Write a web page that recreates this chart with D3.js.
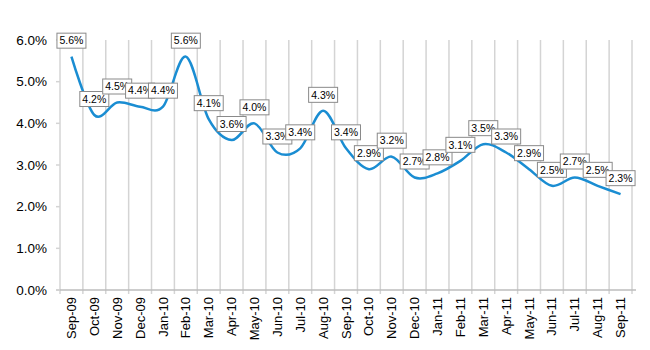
<!DOCTYPE html>
<html>
<head>
<meta charset="utf-8">
<script src="https://cdn.jsdelivr.net/npm/d3@7"></script>
<style>
  body { margin: 0; background: #fff; }
  text { font-family: "Liberation Sans", Arial, sans-serif; }
</style>
</head>
<body>
<div id="chart"></div>
<script>
const months = ["Sep-09","Oct-09","Nov-09","Dec-09","Jan-10","Feb-10","Mar-10","Apr-10","May-10","Jun-10","Jul-10","Aug-10",
  "Sep-10","Oct-10","Nov-10","Dec-10","Jan-11","Feb-11","Mar-11","Apr-11","May-11","Jun-11","Jul-11","Aug-11","Sep-11"];
const rates = [5.6, 4.2, 4.5, 4.4, 4.4, 5.6, 4.1, 3.6, 4.0, 3.3, 3.4, 4.3,
  3.4, 2.9, 3.2, 2.7, 2.8, 3.1, 3.5, 3.3, 2.9, 2.5, 2.7, 2.5, 2.3];
const yTicks = [0, 1, 2, 3, 4, 5, 6];

const width = 650, height = 350;
const margin = { left: 60, right: 18, top: 40, bottom: 60 };

const svg = d3.select("#chart").append("svg")
  .attr("width", width)
  .attr("height", height);

const x = d3.scaleBand()
  .domain(months)
  .range([margin.left, width - margin.right])
  .paddingInner(0).paddingOuter(0);

const y = d3.scaleLinear()
  .domain([0, 6])
  .range([height - margin.bottom, margin.top]);

const gridColor = "#d4d4d4";

// vertical gridlines at category boundaries
const bounds = months.map(m => x(m)).concat([x.range()[1]]);
svg.append("g").selectAll("line")
  .data(bounds)
  .enter().append("line")
  .attr("x1", d => d).attr("x2", d => d)
  .attr("y1", y(6)).attr("y2", y(0) + 4)
  .attr("stroke", gridColor)
  .attr("stroke-width", 1.5);

// bottom axis line
svg.append("line")
  .attr("x1", x.range()[0] - 4).attr("x2", x.range()[1] + 4)
  .attr("y1", y(0)).attr("y2", y(0))
  .attr("stroke", "#bdbdbd")
  .attr("stroke-width", 1.5);

// y axis ticks and labels
const yg = svg.append("g");
yg.selectAll("line")
  .data(yTicks)
  .enter().append("line")
  .attr("x1", margin.left - 4).attr("x2", margin.left)
  .attr("y1", d => y(d)).attr("y2", d => y(d))
  .attr("stroke", gridColor)
  .attr("stroke-width", 1.5);
yg.selectAll("text")
  .data(yTicks)
  .enter().append("text")
  .attr("x", 47)
  .attr("y", d => y(d))
  .attr("dy", "0.35em")
  .attr("text-anchor", "end")
  .attr("font-size", "13.5px")
  .attr("fill", "#000")
  .text(d => d.toFixed(1) + "%");

// x labels, rotated
svg.append("g").selectAll("text")
  .data(months)
  .enter().append("text")
  .attr("transform", d => `translate(${x(d) + x.bandwidth() / 2},${y(0) + 7}) rotate(-90)`)
  .attr("dy", "0.35em")
  .attr("text-anchor", "end")
  .attr("font-size", "13px")
  .attr("fill", "#000")
  .text(d => d);

// smoothed line
const line = d3.line()
  .x((d, i) => x(months[i]) + x.bandwidth() / 2)
  .y(d => y(d))
  .curve(d3.curveCardinal.tension(0));

svg.append("path")
  .datum(rates)
  .attr("d", line)
  .attr("fill", "none")
  .attr("stroke", "#1a8dd2")
  .attr("stroke-width", 2.5);

// data labels
const labels = svg.append("g").selectAll("g")
  .data(rates)
  .enter().append("g")
  .attr("transform", (d, i) => `translate(${x(months[i]) + x.bandwidth() / 2},${y(d) - 16})`);

labels.append("rect")
  .attr("x", -14.5).attr("y", -7.5)
  .attr("width", 29).attr("height", 15)
  .attr("fill", "#fff")
  .attr("stroke", "#8a8a8a")
  .attr("stroke-width", 1);

labels.append("text")
  .attr("text-anchor", "middle")
  .attr("dy", "0.36em")
  .attr("font-size", "10.5px")
  .attr("fill", "#000")
  .text(d => d.toFixed(1) + "%");
</script>
</body>
</html>
